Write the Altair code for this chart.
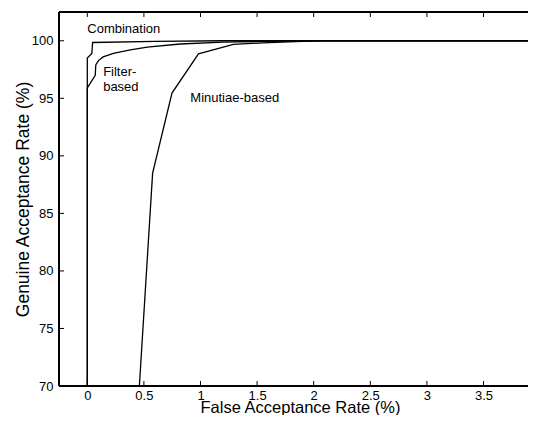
import altair as alt
import pandas as pd

# ---- data ----
comb_x = [0.0, 0.0, 0.04, 0.047, 0.6, 1.2, 4.0]
comb_y = [70.0, 98.5, 98.9, 99.85, 99.95, 100.0, 100.0]

filt_x = [0.0, 0.0, 0.07, 0.075, 0.10, 0.14, 0.23, 0.38, 0.53, 0.82, 1.2, 1.6, 2.0, 4.0]
filt_y = [70.0, 95.9, 97.0, 97.9, 98.3, 98.6, 98.9, 99.2, 99.45, 99.72, 99.88, 99.96, 100.0, 100.0]

minu_x = [0.46, 0.577, 0.748, 0.982, 1.29, 1.55, 1.9, 2.1, 4.0]
minu_y = [70.0, 88.5, 95.45, 98.87, 99.68, 99.82, 99.95, 100.0, 100.0]

x_ticks = [0, 0.5, 1, 1.5, 2, 2.5, 3, 3.5]
y_ticks = [70, 75, 80, 85, 90, 95, 100]

label_text = ["Combination", "Filter-", "based", "Minutiae-based"]
label_x = [0.0, 0.14, 0.14, 0.91]
label_y = [101.0, 97.3, 96.0, 95.0]

# ---- build tables ----
rows = []
for name, xs, ys in [("Combination", comb_x, comb_y),
                     ("Filter-based", filt_x, filt_y),
                     ("Minutiae-based", minu_x, minu_y)]:
    for i, (a, b) in enumerate(zip(xs, ys)):
        rows.append({"series": name, "x": a, "y": b, "o": i})
lines_df = pd.DataFrame(rows)
xt_df = pd.DataFrame({"x": x_ticks})
yt_df = pd.DataFrame({"y": y_ticks})
lab_df = pd.DataFrame({"x": label_x, "y": label_y, "t": label_text})

W, H = 469, 374
XMAX = -0.25 + W / 113.2
FONT = "Liberation Sans"

xscale = alt.Scale(domain=[-0.25, XMAX], nice=False, zero=False)
yscale = alt.Scale(domain=[70, 102.5], nice=False, zero=False)

xaxis = alt.Axis(values=x_ticks, title="False Acceptance Rate (%)", ticks=False, domain=False,
                 grid=False, labelFontSize=13, labelPadding=3, labelColor="black",
                 labelFont=FONT, titleFont=FONT, titleFontSize=16.5, titleFontWeight="normal",
                 titleColor="black", titleY=26, titleBaseline="alphabetic", titleX=241,
                 labelExpr="datum.value == 0 ? '0' : format(datum.value, '.1~f')")
yaxis = alt.Axis(values=y_ticks, title="Genuine Acceptance Rate (%)", ticks=False, domain=False,
                 grid=False, labelFontSize=13, labelPadding=6, labelColor="black",
                 labelFont=FONT, titleFont=FONT, titleFontSize=17.5, titleFontWeight="normal",
                 titleColor="black", titleX=-36, titleBaseline="middle")

X = alt.X("x:Q", scale=xscale, axis=xaxis)
Y = alt.Y("y:Q", scale=yscale, axis=yaxis)

lines = alt.Chart(lines_df).mark_line(color="black", strokeWidth=1.3, clip=True).encode(
    x=X, y=Y, detail="series:N", order="o:Q")

tick_len = 5
bottom_ticks = alt.Chart(xt_df).mark_rule(color="black", strokeWidth=1).encode(
    x=X, y=alt.value(H), y2=alt.value(H - tick_len))
top_ticks = alt.Chart(xt_df).mark_rule(color="black", strokeWidth=1).encode(
    x=X, y=alt.value(0), y2=alt.value(tick_len))
left_ticks = alt.Chart(yt_df).mark_rule(color="black", strokeWidth=1).encode(
    y=Y, x=alt.value(0), x2=alt.value(tick_len))

# frame: top, bottom and left edges (the right edge lies just outside the picture)
frame_top = alt.Chart(xt_df).mark_rule(color="black", strokeWidth=1).encode(
    x=alt.value(0), x2=alt.value(W), y=alt.value(0))
frame_bottom = alt.Chart(xt_df).mark_rule(color="black", strokeWidth=1).encode(
    x=alt.value(0), x2=alt.value(W), y=alt.value(H))
frame_left = alt.Chart(xt_df).mark_rule(color="black", strokeWidth=1).encode(
    x=alt.value(0), y=alt.value(0), y2=alt.value(H))

labels = alt.Chart(lab_df).mark_text(align="left", baseline="middle", fontSize=13,
                                     font=FONT, color="black").encode(
    x=X, y=Y, text="t:N")

chart = alt.layer(lines, bottom_ticks, top_ticks, left_ticks,
                  frame_top, frame_bottom, frame_left, labels).properties(
    width=W, height=H,
    autosize=alt.AutoSizeParams(type="none"),
    padding={"left": 51, "top": 4, "right": 0, "bottom": 29},
    background="white",
).configure_view(strokeWidth=0)

chart.save("out.html", embed_options={"renderer": "svg", "actions": False})
